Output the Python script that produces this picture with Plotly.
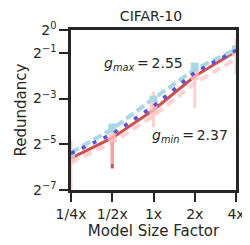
import math
import plotly.graph_objects as go

sizes = ["1/4x", "1/2x", "1x", "2x", "4x"]

# light blue dashed series
lb_vals = [0.0243, 0.0494, 0.125, 0.302, 0.558]
lb_hi = [0.0259, 0.0587, 0.137, 0.371, 0.628]
lb_lo = [0.0218, 0.0439, 0.112, 0.285, 0.525]

# slate blue dotted series
sb_vals = [0.0237, 0.0427, 0.0994, 0.276, 0.54]

# red solid series
rd_vals = [0.0205, 0.0379, 0.0884, 0.246, 0.525]
rd_hi = [0.0205, 0.0379, 0.094, 0.246, 0.525]
rd_lo = [0.0205, 0.0150, 0.082, 0.246, 0.525]

# pink dashed series
pk_vals = [0.0182, 0.0328, 0.0743, 0.200, 0.416]
pk_hi = [0.0357, 0.0451, 0.154, 0.349, 0.769]
pk_lo = [0.0060, 0.0172, 0.0522, 0.0937, 0.261]
pk_box_hi = [0.025, 0.046, 0.118, 0.29, 0.60]
pk_box_lo = [0.0175, 0.033, 0.075, 0.22, 0.45]

ytick_vals = [2 ** 0, 2 ** -1, 2 ** -3, 2 ** -5, 2 ** -7]
ytick_text = ["2<sup>0</sup>", "2<sup>−1</sup>", "2<sup>−3</sup>", "2<sup>−5</sup>", "2<sup>−7</sup>"]

FONT = "DejaVu Sans"
DARK = "#262626"
PINK = "#ffd3d3"
PINK_BAR = "rgba(255,195,195,0.75)"
RED = "#cd4f4f"
SLATE = "#5e4fd8"
LBLUE = "#a9d8e5"


def err(vals, hi, lo, color, thick):
    return dict(type="data", symmetric=False,
                array=[h - v for h, v in zip(hi, vals)],
                arrayminus=[v - l for v, l in zip(vals, lo)],
                color=color, thickness=thick, width=0)


fig = go.Figure()
fig.add_trace(go.Scatter(x=sizes, y=pk_vals, mode="lines",
                         line=dict(color=PINK, width=4, dash="9px,5px")))
fig.add_trace(go.Scatter(x=sizes, y=rd_vals, mode="markers",
                         marker=dict(size=1, opacity=0),
                         error_y=err(rd_vals, rd_hi, rd_lo, RED, 3)))
fig.add_trace(go.Scatter(x=sizes, y=pk_vals, mode="markers",
                         marker=dict(size=1, opacity=0),
                         error_y=err(pk_vals, pk_hi, pk_lo, PINK_BAR, 3)))
fig.add_trace(go.Scatter(x=sizes, y=rd_vals, mode="lines",
                         line=dict(color=RED, width=3)))
fig.add_trace(go.Scatter(x=sizes, y=pk_vals, mode="markers",
                         marker=dict(size=1, opacity=0),
                         error_y=err(pk_vals, pk_box_hi, pk_box_lo, PINK_BAR, 8)))
fig.add_trace(go.Scatter(x=sizes, y=lb_vals, mode="lines",
                         line=dict(color=LBLUE, width=4, dash="9px,4px"),
                         error_y=err(lb_vals, lb_hi, lb_lo, LBLUE, 8)))
fig.add_trace(go.Scatter(x=sizes, y=sb_vals, mode="lines",
                         line=dict(color=SLATE, width=3.5, dash="4px,8px")))

ann_font = dict(family=FONT, size=14, color=DARK)
fig.add_annotation(x=0.75, y=math.log10(2 ** -1.5), xref="x", yref="y",
                   text="<i>g</i><sub><i>max</i></sub>\u2009=\u20092.55", showarrow=False,
                   xanchor="left", yanchor="middle", font=ann_font)
fig.add_annotation(x=1.92, y=math.log10(2 ** -4.65), xref="x", yref="y",
                   text="<i>g</i><sub><i>min</i></sub>\u2009=\u20092.37", showarrow=False,
                   xanchor="left", yanchor="middle", font=ann_font)

# the page body adds an 8px offset; the margins below compensate for it
fig.update_layout(
    width=250, height=245,
    margin=dict(l=58, r=22, t=16, b=63),
    paper_bgcolor="white", plot_bgcolor="white",
    showlegend=False,
    font=dict(family=FONT, size=14, color=DARK),
    title=dict(text="CIFAR-10", x=143 / 250, xanchor="center",
               y=1 - 8 / 245, yanchor="middle",
               font=dict(family=FONT, size=14, color=DARK)),
)
axis_common = dict(showline=True, linecolor=DARK, linewidth=2.5, mirror=True,
                   ticks="outside", ticklen=9, tickwidth=2, tickcolor=DARK,
                   showgrid=False, zeroline=False,
                   tickfont=dict(family=FONT, size=14, color=DARK))
fig.update_xaxes(type="category", range=[0, 4],
                 title=dict(text="Model Size Factor", standoff=2,
                            font=dict(family=FONT, size=15, color=DARK)),
                 **axis_common)
fig.update_yaxes(type="log", range=[math.log10(2 ** -7), 0],
                 tickvals=ytick_vals, ticktext=ytick_text,
                 title=dict(text="Redundancy", standoff=3,
                            font=dict(family=FONT, size=15, color=DARK)),
                 **axis_common)

fig.write_html("out.html")
